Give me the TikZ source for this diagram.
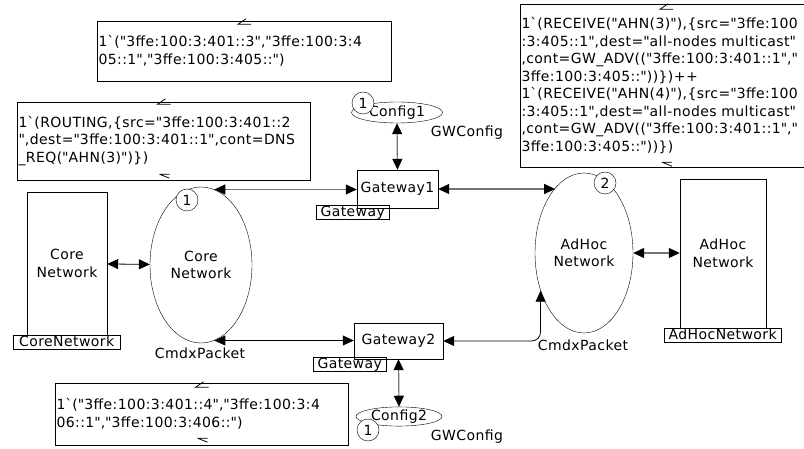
\documentclass[tikz,border=0pt]{standalone}
\usepackage{fontspec}
\setmainfont[LetterSpace=3]{DejaVu Sans}
\usetikzlibrary{shapes.geometric,arrows.meta}
\newcommand\qq{\textquotedbl}
\newcommand\bq{\textasciigrave}
\tikzset{
  every node/.style={font=\fontsize{14}{17.5}\selectfont, inner sep=0pt},
  annot/.style={draw, align=left, inner xsep=1.5pt, inner ysep=0pt},
  place/.style={draw, ellipse, align=center},
  trans/.style={draw, rectangle, align=center},
  lbl/.style={draw, rectangle, anchor=north west, minimum height=14pt, inner xsep=1pt, text height=10.5pt, text depth=2.5pt},
  token/.style={draw, circle, fill=white, minimum size=22pt},
  conn/.style={line width=0.8pt, {Triangle[length=11pt,width=10pt]}-{Triangle[length=11pt,width=10pt]}},
  gconn/.style={line width=1.2pt, color=black!55, {Triangle[length=11pt,width=10pt,color=black]}-{Triangle[length=11pt,width=10pt,color=black]}},
  tick/.style={line width=0.8pt}
}
\begin{document}
\begin{tikzpicture}[x=1pt,y=-1pt]
\useasboundingbox (0,0) rectangle (804,449);
\fill[white] (0,0) rectangle (804,449);

% annotation boxes
\node[annot, minimum width=294pt, minimum height=60pt, text width=291pt] (annA) at (244,51)
 {\mbox{1\bq(\qq3ffe:100:3:401::3\qq,\qq3ffe:100:3:4}\\\mbox{05::1\qq,\qq3ffe:100:3:405::\qq)}};
\node[annot, minimum width=293pt, minimum height=78pt, text width=290pt] (annB) at (163.5,141)
 {\mbox{1\bq(ROUTING,\{src=\qq3ffe:100:3:401::2}\\\mbox{\qq,dest=\qq3ffe:100:3:401::1\qq,cont=DNS}\\\mbox{\_REQ(\qq AHN(3)\qq)\})}};
\node[annot, minimum width=300pt, minimum height=163pt, text width=297pt] (annC) at (670,85.5)
 {\mbox{1\bq(RECEIVE(\qq AHN(3)\qq),\{src=\qq3ffe:100}\\\mbox{:3:405::1\qq,dest=\qq all-nodes multicast\qq}\\\mbox{,cont=GW\_ADV((\qq3ffe:100:3:401::1\qq,\qq}\\\mbox{3ffe:100:3:405::\qq))\})++}\\
  \mbox{1\bq(RECEIVE(\qq AHN(4)\qq),\{src=\qq3ffe:100}\\\mbox{:3:405::1\qq,dest=\qq all-nodes multicast\qq}\\\mbox{,cont=GW\_ADV((\qq3ffe:100:3:401::1\qq,\qq}\\\mbox{3ffe:100:3:405::\qq))\})}};
\node[annot, minimum width=293pt, minimum height=62pt, text width=290pt] (annD) at (201.5,414)
 {\mbox{1\bq(\qq3ffe:100:3:401::4\qq,\qq3ffe:100:3:4}\\\mbox{06::1\qq,\qq3ffe:100:3:406::\qq)}};

% ticks
\draw[tick] (annA.north) ++(2,-2) -- ++(-8,5.5) -- ++(13,0);
\draw[tick] (annB.north) ++(2,-3) -- ++(-8,5.5) -- ++(13,0);
\draw[tick] (annB.south) ++(-4,-6) -- ++(10,0) (annB.south) ++(-4,-6) -- ++(10,4);
\draw[tick] (annC.north) ++(-2,0) -- ++(-8,5.5) -- ++(13,0);
\draw[tick] (annC.south) ++(-8,-5) -- ++(10,0) (annC.south) ++(-8,-5) -- ++(10,4);
\draw[tick] (annD.north) ++(2,-1) -- ++(-8,5.5) -- ++(13,0);
\draw[tick] (annD.south) ++(-4,-7) -- ++(10,0) (annD.south) ++(-4,-7) -- ++(10,4);

% places and transitions
\node[trans, minimum width=80pt, minimum height=143pt] (coreR) at (67,263.5) {Core\\Network};
\node[lbl, minimum width=107pt, anchor=north west] (coreL) at (13,335) {CoreNetwork};
\node[place, minimum width=102pt, minimum height=156pt] (coreE) at (201,265) {Core\\Network};
\node[token] (tokCore) at (187,200) {1};
\node (cmd1) at (200,353) {CmdxPacket};

\node[place, minimum width=98pt, minimum height=160pt] (adE) at (584,253) {AdHoc\\Network};
\node[token] (tokAd) at (605,183) {2};
\node (cmd2) at (583,345) {CmdxPacket};
\node[trans, minimum width=86pt, minimum height=149pt] (adR) at (723,253.5) {AdHoc\\Network};
\node[lbl, minimum width=117pt] (adL) at (664,328) {AdHocNetwork};

\node[trans, minimum width=81pt, minimum height=38pt] (g1) at (397.5,189) {Gateway1};
\node[lbl, minimum width=73pt] (g1L) at (316,205) {Gateway};
\node[place, minimum width=91pt, minimum height=21pt] (cfg1) at (397,112.5) {Config1};
\node[token] (tokC1) at (363,103) {1};
\node (gw1) at (467,133) {GWConfig};

\node[trans, minimum width=89pt, minimum height=36pt] (g2) at (398.5,341) {Gateway2};
\node[lbl, minimum width=73pt] (g2L) at (313,357) {Gateway};
\node[place, minimum width=86pt, minimum height=19pt] (cfg2) at (399,416.5) {Config2};
\node[token] (tokC2) at (368,430) {1};
\node (gw2) at (467,437) {GWConfig};

% connectors
\draw[conn] (coreR) -- (coreE);
\draw[gconn] (coreE.80) -- (coreE.80 -| g1.west);
\draw[gconn] (g1.east) -- (g1.east -| adE.114);
\draw[gconn] (cfg1.south) -- (g1.north);
\draw[gconn] (adE.east) -- (adE.east -| adR.west);
\draw[conn] (coreE.-80) -- (coreE.-80 -| g2.west);
\draw[conn, rounded corners=9pt] (g2.east) -- (g2.east -| adE.221) -- (adE.221);
\draw[gconn] (g2.south) -- (cfg2.north);
\end{tikzpicture}
\end{document}
